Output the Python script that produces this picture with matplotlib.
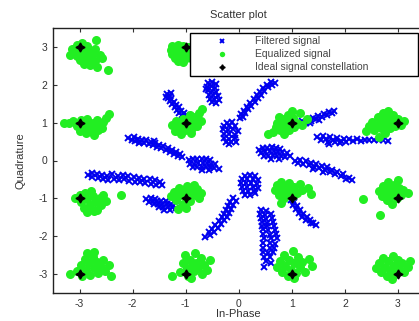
import matplotlib
matplotlib.use('Agg')
import matplotlib.pyplot as plt

plt.rcParams['font.family'] = ['Liberation Sans', 'DejaVu Sans']
plt.rcParams['axes.unicode_minus'] = False

# ideal 16-QAM constellation
ideal_i = [-3, -1, 1, 3, -3, -1, 1, 3, -3, -1, 1, 3, -3, -1, 1, 3]
ideal_q = [3, 3, 3, 3, 1, 1, 1, 1, -1, -1, -1, -1, -3, -3, -3, -3]

filtered = [
    # streak left of (-1, 1)
    (-2.08, 0.60), (-2.02, 0.55), (-1.98, 0.62), (-1.95, 0.52), (-1.90, 0.58), (-1.86, 0.50),
    (-1.82, 0.55), (-1.78, 0.47), (-1.74, 0.53), (-1.70, 0.44), (-1.66, 0.50), (-1.62, 0.40),
    (-1.58, 0.46), (-1.54, 0.36), (-1.50, 0.42), (-1.46, 0.33), (-1.42, 0.38), (-1.38, 0.28),
    (-1.34, 0.34), (-1.30, 0.22), (-1.26, 0.28), (-1.22, 0.17), (-1.18, 0.22), (-1.14, 0.12),
    (-1.10, 0.16), (-1.06, 0.08), (-1.60, 0.52), (-1.88, 0.46),
    # above (-1, 1)
    (-1.35, 1.75), (-1.30, 1.70), (-1.34, 1.64), (-1.27, 1.62), (-1.30, 1.56), (-1.22, 1.55),
    (-1.25, 1.48), (-1.18, 1.46), (-1.21, 1.40), (-1.13, 1.40), (-1.16, 1.33), (-1.09, 1.32),
    (-1.12, 1.26), (-1.04, 1.25), (-1.06, 1.19), (-1.00, 1.20), (-1.28, 1.78), (-1.38, 1.68),
    # blob below legend
    (-0.58, 2.05), (-0.50, 2.08), (-0.42, 2.02), (-0.60, 1.95), (-0.52, 1.96), (-0.44, 1.92),
    (-0.58, 1.85), (-0.50, 1.84), (-0.42, 1.82), (-0.56, 1.74), (-0.48, 1.73), (-0.40, 1.70),
    (-0.54, 1.63), (-0.46, 1.62), (-0.38, 1.60), (-0.50, 1.54), (-0.42, 1.52), (-0.62, 1.90),
    # blob above centre
    (-0.22, 1.00), (-0.12, 1.02), (-0.28, 0.92), (-0.18, 0.92), (-0.08, 0.90), (-0.30, 0.82),
    (-0.20, 0.80), (-0.10, 0.82), (-0.02, 0.78), (-0.28, 0.70), (-0.18, 0.70), (-0.08, 0.68),
    (-0.28, 0.60), (-0.18, 0.58), (-0.08, 0.60), (-0.24, 0.50), (-0.14, 0.48), (-0.06, 0.50),
    (-0.18, 0.43),
    # diagonal streak up to legend
    (0.02, 1.12), (0.08, 1.15), (0.05, 1.22), (0.12, 1.25), (0.10, 1.32), (0.18, 1.35),
    (0.16, 1.42), (0.24, 1.45), (0.22, 1.52), (0.30, 1.55), (0.28, 1.62), (0.36, 1.64),
    (0.34, 1.72), (0.42, 1.74), (0.40, 1.82), (0.48, 1.84), (0.46, 1.92), (0.55, 1.93),
    (0.53, 2.00), (0.62, 2.00), (0.60, 2.08), (0.68, 2.06),
    # right of (1, 1)
    (1.12, 0.98), (1.18, 0.94), (1.20, 1.04), (1.26, 1.00), (1.30, 1.08), (1.36, 1.04),
    (1.40, 1.12), (1.46, 1.10), (1.50, 1.18), (1.56, 1.14), (1.60, 1.22), (1.66, 1.20),
    (1.70, 1.28), (1.76, 1.25), (1.80, 1.30), (1.52, 1.06), (1.34, 0.98),
    # long streak towards (3, 1)
    (1.48, 0.62), (1.55, 0.55), (1.58, 0.66), (1.64, 0.58), (1.68, 0.50), (1.72, 0.62),
    (1.78, 0.55), (1.82, 0.48), (1.86, 0.60), (1.92, 0.52), (1.98, 0.58), (2.02, 0.50),
    (2.08, 0.56), (2.15, 0.52), (2.22, 0.56), (2.30, 0.52), (2.38, 0.55), (2.46, 0.53),
    (2.55, 0.55), (2.64, 0.53), (2.72, 0.55), (2.82, 0.52), (1.70, 0.44), (1.90, 0.45),
    # blob right of centre
    (0.38, 0.28), (0.46, 0.32), (0.54, 0.34), (0.62, 0.35), (0.70, 0.33), (0.78, 0.30),
    (0.42, 0.20), (0.50, 0.22), (0.58, 0.24), (0.66, 0.24), (0.74, 0.22), (0.82, 0.22),
    (0.90, 0.20), (0.48, 0.12), (0.56, 0.12), (0.64, 0.14), (0.72, 0.12), (0.80, 0.12),
    (0.88, 0.10), (0.96, 0.12), (0.60, 0.05), (0.76, 0.05),
    # falling streak right
    (1.06, 0.00), (1.12, -0.06), (1.16, 0.02), (1.22, -0.08), (1.26, -0.02), (1.32, -0.12),
    (1.36, -0.06), (1.42, -0.16), (1.46, -0.10), (1.52, -0.20), (1.56, -0.14), (1.62, -0.24),
    (1.66, -0.18), (1.72, -0.30), (1.76, -0.24), (1.82, -0.36), (1.86, -0.30), (1.92, -0.42),
    (1.96, -0.36), (2.02, -0.48), (2.08, -0.46), (2.14, -0.52), (1.58, -0.30), (1.40, -0.22),
    # blob below centre
    (0.12, -0.40), (0.22, -0.38), (0.30, -0.42), (0.06, -0.50), (0.16, -0.50), (0.26, -0.50),
    (0.36, -0.52), (0.04, -0.60), (0.14, -0.60), (0.24, -0.60), (0.34, -0.62), (0.06, -0.70),
    (0.16, -0.70), (0.26, -0.70), (0.36, -0.72), (0.08, -0.80), (0.18, -0.80), (0.28, -0.80),
    (0.12, -0.90), (0.22, -0.90), (0.30, -0.86),
    # below (1, -1)
    (0.98, -1.05), (1.04, -1.10), (1.02, -1.18), (1.10, -1.20), (1.08, -1.28), (1.16, -1.30),
    (1.14, -1.38), (1.22, -1.40), (1.20, -1.48), (1.28, -1.50), (1.26, -1.56), (1.34, -1.58),
    (1.40, -1.64), (1.46, -1.70), (1.36, -1.66),
    # long vertical streak
    (0.42, -1.32), (0.52, -1.34), (0.40, -1.42), (0.50, -1.44), (0.60, -1.42), (0.42, -1.52),
    (0.52, -1.54), (0.62, -1.52), (0.44, -1.62), (0.54, -1.64), (0.64, -1.62), (0.44, -1.72),
    (0.54, -1.74), (0.66, -1.72), (0.46, -1.82), (0.56, -1.84), (0.68, -1.84), (0.46, -1.94),
    (0.58, -1.96), (0.70, -1.94), (0.48, -2.06), (0.60, -2.06), (0.72, -2.06), (0.46, -2.18),
    (0.58, -2.18), (0.68, -2.20), (0.46, -2.30), (0.58, -2.32), (0.66, -2.30), (0.46, -2.42),
    (0.56, -2.44), (0.64, -2.42), (0.48, -2.54), (0.58, -2.56), (0.52, -2.66), (0.60, -2.70),
    (0.48, -2.80),
    # diagonal streak lower left of centre
    (-0.10, -1.00), (-0.06, -1.08), (-0.16, -1.10), (-0.10, -1.18), (-0.20, -1.20), (-0.14, -1.28),
    (-0.24, -1.30), (-0.18, -1.38), (-0.28, -1.40), (-0.22, -1.48), (-0.32, -1.50), (-0.28, -1.58),
    (-0.38, -1.60), (-0.34, -1.68), (-0.44, -1.70), (-0.40, -1.78), (-0.50, -1.80), (-0.46, -1.88),
    (-0.56, -1.90), (-0.54, -1.98), (-0.64, -2.02),
    # left of (-1, -1)
    (-1.74, -1.02), (-1.66, -1.00), (-1.58, -1.02), (-1.70, -1.10), (-1.62, -1.08), (-1.54, -1.08),
    (-1.46, -1.06), (-1.38, -1.08), (-1.60, -1.16), (-1.52, -1.16), (-1.44, -1.14), (-1.36, -1.14),
    (-1.28, -1.16), (-1.50, -1.24), (-1.42, -1.22), (-1.34, -1.22), (-1.26, -1.24), (-1.18, -1.26),
    (-1.40, -1.30), (-1.30, -1.30),
    # long streak left
    (-2.84, -0.38), (-2.76, -0.34), (-2.76, -0.44), (-2.68, -0.36), (-2.66, -0.46), (-2.58, -0.38),
    (-2.56, -0.50), (-2.48, -0.40), (-2.46, -0.52), (-2.38, -0.36), (-2.36, -0.48), (-2.28, -0.40),
    (-2.26, -0.52), (-2.18, -0.38), (-2.16, -0.50), (-2.08, -0.42), (-2.06, -0.54), (-1.98, -0.44),
    (-1.96, -0.56), (-1.88, -0.46), (-1.86, -0.58), (-1.78, -0.48), (-1.76, -0.60), (-1.68, -0.50),
    (-1.66, -0.62), (-1.58, -0.52), (-1.56, -0.64), (-1.48, -0.56), (-1.44, -0.66),
    # blob left of centre
    (-0.94, 0.02), (-0.86, 0.04), (-0.78, 0.05), (-0.70, 0.04), (-0.62, 0.05), (-0.54, 0.02),
    (-0.92, -0.08), (-0.84, -0.08), (-0.76, -0.06), (-0.68, -0.06), (-0.60, -0.06), (-0.52, -0.08),
    (-0.44, -0.10), (-0.86, -0.18), (-0.78, -0.18), (-0.70, -0.16), (-0.62, -0.16), (-0.54, -0.18),
    (-0.46, -0.20), (-0.38, -0.22), (-0.70, -0.26), (-0.56, -0.26),
]

# equalized signal, one group per constellation point
equalized = [
    # (-3, 3)
    (-3.15, 2.95), (-3.05, 3.05), (-2.95, 3.10), (-2.85, 3.02), (-3.10, 2.85), (-3.00, 2.90),
    (-2.90, 2.92), (-2.80, 2.88), (-2.70, 2.95), (-3.18, 2.78), (-3.05, 2.75), (-2.95, 2.80),
    (-2.85, 2.78), (-2.75, 2.80), (-2.62, 2.78), (-3.00, 2.65), (-2.90, 2.68), (-2.80, 2.65),
    (-2.70, 2.62), (-2.92, 2.55), (-2.80, 2.52), (-2.68, 2.48), (-2.46, 2.39), (-2.69, 3.18),
    (-2.58, 2.70),
    # (-1, 3)
    (-1.25, 3.02), (-1.15, 3.05), (-1.05, 3.02), (-0.95, 3.00), (-1.28, 2.92), (-1.18, 2.95),
    (-1.08, 2.92), (-0.98, 2.90), (-1.25, 2.82), (-1.15, 2.84), (-1.05, 2.82), (-0.95, 2.80),
    (-1.20, 2.72), (-1.10, 2.72), (-1.00, 2.70), (-1.15, 2.62), (-1.05, 2.60), (-0.90, 2.72),
    # (1, 3) and (3, 3), under the legend
    (0.85, 2.95), (0.95, 2.85), (0.80, 2.75), (1.05, 2.95), (0.90, 2.65),
    (2.85, 2.95), (2.95, 2.85), (2.80, 2.75), (3.05, 2.95), (2.90, 2.65),
    # (-3, 1)
    (-3.30, 1.00), (-3.20, 0.98), (-3.12, 1.05), (-3.05, 0.92), (-2.98, 1.08), (-2.95, 0.85),
    (-2.90, 0.98), (-2.85, 1.10), (-2.82, 0.88), (-2.78, 0.78), (-2.75, 1.00), (-2.70, 0.92),
    (-2.68, 1.08), (-2.65, 0.80), (-2.60, 0.95), (-2.55, 1.02), (-2.50, 1.12), (-2.45, 1.22),
    (-2.88, 0.72), (-2.72, 0.68), (-3.00, 0.78), (-2.58, 0.86),
    # (-1, 1)
    (-1.25, 0.95), (-1.18, 1.05), (-1.15, 0.85), (-1.10, 0.98), (-1.05, 1.10), (-1.02, 0.80),
    (-0.98, 0.92), (-0.95, 1.05), (-0.90, 0.72), (-0.88, 0.85), (-0.85, 1.00), (-0.82, 1.15),
    (-0.78, 0.90), (-0.75, 1.25), (-0.72, 1.05), (-0.70, 1.35), (-1.08, 0.70), (-0.92, 1.20),
    (-1.20, 0.78),
    # (1, 1)
    (0.56, 0.70), (0.65, 0.75), (0.70, 0.88), (0.72, 1.00), (0.78, 0.80), (0.80, 0.95),
    (0.82, 1.10), (0.85, 0.70), (0.88, 0.88), (0.90, 1.02), (0.92, 1.20), (0.95, 0.80),
    (0.98, 0.95), (1.02, 1.12), (1.05, 0.88), (1.10, 1.00), (1.15, 1.25), (1.20, 0.95),
    (1.28, 1.10), (0.75, 1.15), (1.00, 1.30),
    # (3, 1)
    (2.45, 0.90), (2.52, 1.02), (2.55, 0.80), (2.60, 0.95), (2.62, 1.15), (2.68, 0.85),
    (2.70, 1.05), (2.72, 1.25), (2.75, 0.72), (2.78, 0.95), (2.80, 1.12), (2.85, 0.85),
    (2.88, 1.02), (2.90, 1.20), (2.95, 0.92), (3.00, 1.10), (3.05, 0.95), (3.12, 1.05),
    (2.65, 0.62), (2.82, 1.30), (2.40, 0.78),
    # (-3, -1)
    (-3.08, -1.00), (-3.00, -0.90), (-2.98, -1.10), (-2.92, -1.25), (-2.90, -0.85), (-2.85, -1.02),
    (-2.80, -1.18), (-2.78, -0.80), (-2.75, -0.95), (-2.70, -1.10), (-2.68, -1.30), (-2.62, -1.00),
    (-2.60, -1.18), (-2.55, -0.90), (-2.50, -1.08), (-2.85, -1.35), (-2.72, -1.34), (-2.22, -0.91),
    # (-1, -1)
    (-1.28, -0.95), (-1.22, -0.82), (-1.18, -1.05), (-1.12, -0.72), (-1.10, -0.90), (-1.05, -1.15),
    (-1.02, -0.80), (-0.98, -0.68), (-0.95, -0.95), (-0.92, -1.08), (-0.88, -0.78), (-0.85, -0.65),
    (-0.82, -0.90), (-0.78, -0.75), (-0.75, -1.00), (-0.72, -0.85), (-1.15, -1.28), (-1.00, -1.25),
    # (1, -1)
    (0.68, -0.78), (0.72, -0.65), (0.75, -0.90), (0.80, -0.58), (0.82, -0.78), (0.85, -1.00),
    (0.88, -0.68), (0.92, -0.88), (0.95, -0.60), (0.98, -0.78), (1.02, -0.95), (1.05, -0.70),
    (1.10, -0.85), (1.15, -0.62), (1.20, -0.78), (1.30, -0.72), (1.36, -0.88), (0.80, -1.12),
    # (3, -1)
    (2.65, -0.80), (2.70, -0.95), (2.72, -0.68), (2.78, -0.85), (2.80, -1.05), (2.82, -0.58),
    (2.85, -0.75), (2.88, -0.92), (2.92, -0.65), (2.95, -0.82), (2.98, -1.00), (3.02, -0.72),
    (3.05, -0.90), (3.10, -0.78), (3.18, -0.85), (2.88, -1.15), (3.00, -0.52), (2.34, -1.02),
    (2.66, -1.44),
    # (-3, -3)
    (-3.18, -3.00), (-3.05, -2.92), (-2.98, -2.75), (-2.95, -3.05), (-2.90, -2.60), (-2.88, -2.88),
    (-2.82, -2.72), (-2.80, -3.02), (-2.75, -2.55), (-2.72, -2.85), (-2.68, -2.68), (-2.65, -2.98),
    (-2.60, -2.80), (-2.55, -2.62), (-2.52, -2.92), (-2.45, -2.75), (-2.40, -3.05), (-2.72, -2.42),
    (-2.85, -2.45),
    # (-1, -3)
    (-1.25, -3.05), (-1.10, -2.95), (-1.05, -2.70), (-1.02, -2.50), (-0.98, -2.85), (-0.95, -3.05),
    (-0.92, -2.62), (-0.88, -2.78), (-0.85, -2.92), (-0.82, -2.45), (-0.80, -2.70), (-0.76, -2.85),
    (-0.72, -2.58), (-0.70, -3.00), (-0.65, -2.75), (-0.60, -2.90), (-0.55, -2.62), (-0.90, -3.10),
    # (1, -3)
    (0.72, -2.80), (0.78, -2.65), (0.82, -2.95), (0.85, -2.50), (0.88, -2.78), (0.92, -3.05),
    (0.95, -2.62), (0.98, -2.88), (1.02, -2.40), (1.05, -2.72), (1.08, -2.98), (1.12, -2.55),
    (1.15, -2.82), (1.20, -2.68), (1.25, -2.95), (1.32, -2.60), (1.38, -2.78), (1.05, -3.10),
    # (3, -3)
    (2.58, -2.85), (2.65, -2.70), (2.68, -2.95), (2.72, -2.58), (2.75, -2.82), (2.80, -3.05),
    (2.82, -2.65), (2.85, -2.90), (2.90, -2.52), (2.92, -2.75), (2.95, -3.00), (3.00, -2.62),
    (3.02, -2.85), (3.08, -2.72), (3.12, -2.95), (3.18, -2.80), (3.22, -2.65), (2.88, -3.12),
]

ticks = [-3, -2, -1, 0, 1, 2, 3]

fig = plt.figure(figsize=(4.19, 3.21), dpi=100)
# right edge of the box falls outside the picture, as in the reference
ax = fig.add_axes([0.1265, 0.0872, 0.8866, 0.8256])

fi, fq = zip(*filtered)
ei, eq = zip(*equalized)
ax.plot(fi, fq, linestyle='none', marker='x', color='#0000ee',
        markersize=4.6, markeredgewidth=1.4, label='Filtered signal')
ax.plot(ei, eq, linestyle='none', marker='o', color='#22ee22',
        markersize=6.5, markeredgewidth=0, label='Equalized signal')
ax.plot(ideal_i, ideal_q, linestyle='none', marker=(4, 1, 0), color='black',
        markersize=6.5, label='Ideal signal constellation')

ax.set_xlim(-3.5, 3.5)
ax.set_ylim(-3.5, 3.5)
ax.set_xticks(ticks)
ax.set_yticks(ticks)
ax.tick_params(direction='in', length=3, width=0.8, labelsize=7.5, colors='#333333',
               top=True, right=True, pad=4)
for sp in ax.spines.values():
    sp.set_color('#222222')
    sp.set_linewidth(1.0)

ax.set_title('Scatter plot', fontsize=8, color='#333333', pad=7)
ax.set_xlabel('In-Phase', fontsize=8, color='#333333', labelpad=0)
ax.set_ylabel('Quadrature', fontsize=8, color='#333333', labelpad=9)

leg = ax.legend(loc='upper left', bbox_to_anchor=(0.369, 0.981, 0.614, 0.0),
                mode='expand', borderaxespad=0, fontsize=7.5, frameon=True,
                fancybox=False, framealpha=1, edgecolor='black',
                handlelength=5.5, handletextpad=0.4, labelspacing=0.3,
                borderpad=0.3, markerscale=0.6)
leg.get_frame().set_linewidth(1.0)
leg.set_zorder(5)
for t in leg.get_texts():
    t.set_color('#444444')

fig.savefig('out.png', dpi=100)
